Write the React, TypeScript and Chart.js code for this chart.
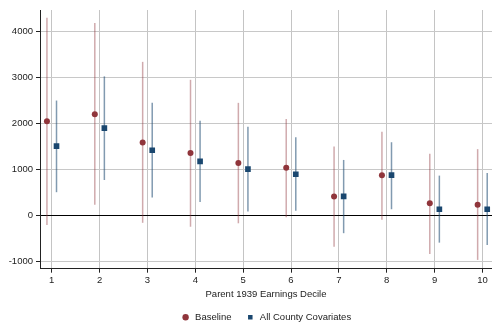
import React, { useEffect, useRef } from "react";
import { Chart, registerables } from "chart.js";

Chart.register(...registerables);

const deciles = [1, 2, 3, 4, 5, 6, 7, 8, 9, 10];
const baselineEst = [2040, 2195, 1580, 1350, 1135, 1030, 405, 870, 260, 230];
const baselineLo = [-210, 225, -165, -250, -175, -45, -685, -100, -840, -970];
const baselineHi = [4290, 4175, 3330, 2940, 2440, 2090, 1490, 1810, 1335, 1435];
const covEst = [1500, 1890, 1410, 1170, 1000, 890, 410, 870, 130, 130];
const covLo = [500, 765, 385, 285, 80, 95, -390, 130, -595, -645];
const covHi = [2490, 3015, 2440, 2050, 1920, 1695, 1200, 1585, 860, 915];
const yTicks = [-1000, 0, 1000, 2000, 3000, 4000];
const seriesNames = ["Baseline", "All County Covariates"];

const OFFSET = 0.1;
const FONT = "'Liberation Sans', Arial, sans-serif";
const MAROON = "rgb(144,53,59)";
const NAVY = "rgb(26,71,111)";

const errorBars = {
  id: "errorBars",
  beforeDatasetsDraw(chart: any) {
    const { ctx, scales } = chart;
    const xs = scales.x;
    const ys = scales.y;
    const groups = [
      { lo: baselineLo, hi: baselineHi, off: -OFFSET, color: "rgba(144,53,59,0.42)" },
      { lo: covLo, hi: covHi, off: OFFSET, color: "rgba(26,71,111,0.55)" },
    ];
    ctx.save();
    ctx.lineWidth = 1.5;
    groups.forEach((g) => {
      ctx.strokeStyle = g.color;
      deciles.forEach((d, i) => {
        const x = xs.getPixelForValue(d + g.off);
        ctx.beginPath();
        ctx.moveTo(x, ys.getPixelForValue(g.lo[i]));
        ctx.lineTo(x, ys.getPixelForValue(g.hi[i]));
        ctx.stroke();
      });
    });
    ctx.restore();
  },
};

export default function App() {
  const ref = useRef<HTMLCanvasElement>(null);
  useEffect(() => {
    if (!ref.current) return;
    const chart: any = new Chart(ref.current, {
      type: "scatter",
      data: {
        datasets: [
          {
            label: seriesNames[0],
            data: deciles.map((d, i) => ({ x: d - OFFSET, y: baselineEst[i] })),
            pointStyle: "circle",
            pointRadius: 3,
            backgroundColor: MAROON,
            borderColor: MAROON,
            borderWidth: 0,
          },
          {
            label: seriesNames[1],
            data: deciles.map((d, i) => ({ x: d + OFFSET, y: covEst[i] })),
            pointStyle: "rect",
            pointRadius: 4,
            backgroundColor: NAVY,
            borderColor: NAVY,
            borderWidth: 0,
          },
        ],
      },
      options: {
        responsive: false,
        animation: false,
        devicePixelRatio: 1,
        layout: { padding: { left: 0, right: 0, top: 10, bottom: 0 } },
        scales: {
          x: {
            type: "linear",
            min: 0.755,
            max: 10.2,
            afterBuildTicks: (s: any) => {
              s.ticks = deciles.map((v) => ({ value: v }));
            },
            afterFit: (s: any) => {
              s.height = 29.8;
              s.paddingLeft = 0;
              s.paddingRight = 0;
            },
            ticks: {
              font: { family: FONT, size: 9.5 },
              color: "#222",
              padding: 1.5,
              maxRotation: 0,
            },
            grid: { color: "#c4c4c4", lineWidth: 1, tickLength: 4, tickColor: "#222" },
            border: { color: "#222", width: 1 },
            title: {
              display: true,
              text: "Parent 1939 Earnings Decile",
              font: { family: FONT, size: 9.5 },
              color: "#222",
              padding: { top: 0, bottom: -1.5 },
            },
          },
          y: {
            type: "linear",
            min: -1161,
            max: 4456,
            afterBuildTicks: (s: any) => {
              s.ticks = yTicks.map((v) => ({ value: v }));
            },
            afterFit: (s: any) => {
              s.width = 40;
            },
            ticks: {
              font: { family: FONT, size: 9.5 },
              color: "#222",
              padding: 3,
              callback: (v: any) => String(v),
            },
            grid: {
              color: (c: any) => (c.tick && c.tick.value === 0 ? "#000" : "#c8c8c8"),
              lineWidth: 1,
              tickLength: 4,
              tickColor: "#222",
            },
            border: { color: "#222", width: 1 },
          },
        },
        plugins: {
          legend: {
            position: "bottom",
            fullSize: false,
            labels: {
              usePointStyle: true,
              boxWidth: 9.5,
              boxHeight: 4.5,
              padding: 14,
              font: { family: FONT, size: 9.5 },
              color: "#222",
            },
          },
          tooltip: { enabled: false },
        },
      },
      plugins: [errorBars],
    });
    return () => chart.destroy();
  }, []);
  return (
    <div style={{ position: "fixed", left: 0, top: 0, width: 492, height: 329, overflow: "hidden", background: "#fff" }}>
      <canvas ref={ref} width={496} height={332} />
    </div>
  );
}
